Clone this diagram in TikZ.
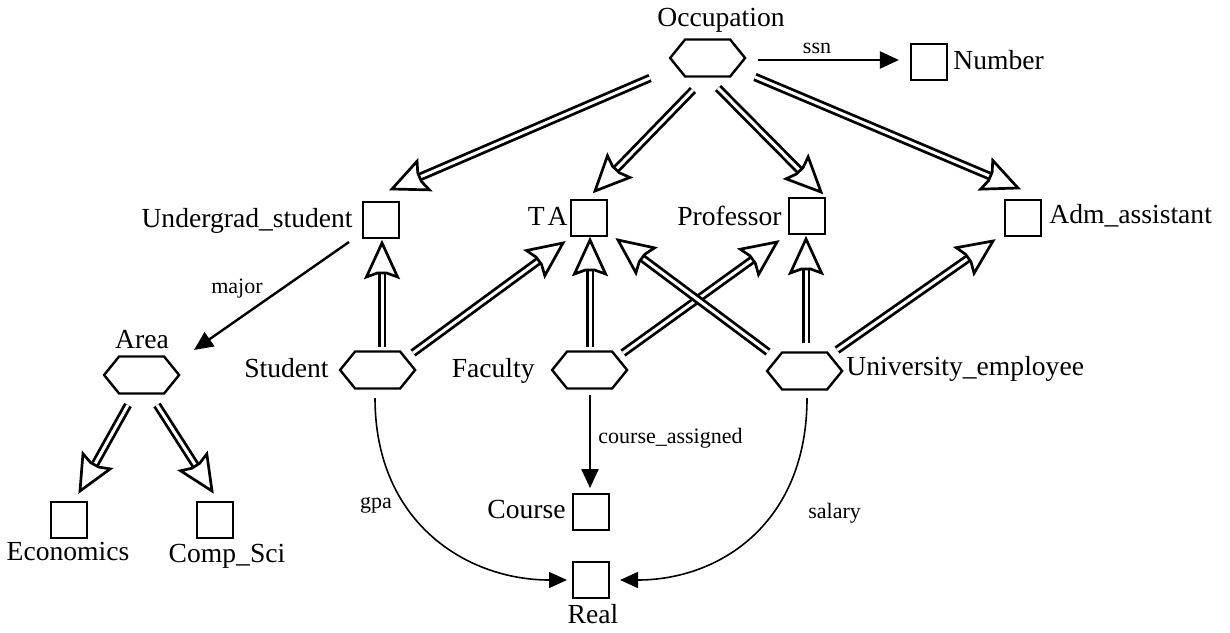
\documentclass[tikz,border=0pt]{standalone}
\usepackage{fontspec}
\setmainfont{Liberation Serif}
\usetikzlibrary{calc,arrows.meta}
\tikzset{
 box/.style={draw, line width=1.1pt, minimum width=18pt, minimum height=18pt, inner sep=0pt},
 hexn/.style={minimum width=37.5pt, minimum height=18.5pt, inner sep=0pt},
 hexline/.style={line width=1.2pt, line join=miter},
 lbl/.style={inner sep=0pt, font=\fontsize{13.8}{16}\selectfont},
 slbl/.style={inner sep=0pt, font=\fontsize{11}{13}\selectfont},
 dbl/.style={double, line width=1.4pt, double distance=1.5pt},
 headst/.style={line width=1.35pt, fill=white, line join=miter},
 arr/.style={line width=1.2pt, -{Triangle[length=9.5pt,width=8.5pt]}},
 carr/.style={line width=0.8pt, -{Triangle[length=9pt,width=8pt]}},
}
\newcommand\hexat[2]{\node[hexn] (#1) at (#2) {};
 \draw[hexline] (#1.west) -- ++(15,-18.5) -- ++(45,0) -- ++(15,18.5) -- ++(-15,18.5) -- ++(-45,0) -- cycle;}
\newcommand\isa[4]{%
 \coordinate (isaS) at ($(#1)+(#2)$);
 \coordinate (isaT) at ($(#3)+(#4)$);
 \draw[dbl] (isaS) -- ($(isaT)!15pt!(isaS)$);
 \draw[headst] (isaT) -- ($(isaT)!17pt!(isaS)!7.8pt!90:(isaS)$) -- ($(isaT)!15pt!(isaS)!2.3pt!90:(isaS)$) -- ($(isaT)!15pt!(isaS)!2.3pt!-90:(isaS)$) -- ($(isaT)!17pt!(isaS)!7.8pt!-90:(isaS)$) -- cycle;}
\begin{document}
\begin{tikzpicture}[x=0.5pt,y=-0.5pt]
\useasboundingbox (0,0) rectangle (1230,632);
% nodes
\hexat{occ}{708,58}
\node[box] (num) at (929,62) {};
\node[box] (ug) at (381,220) {};
\node[box] (ta) at (589,218) {};
\node[box] (prof) at (807,216) {};
\node[box] (adm) at (1023,218) {};
\hexat{stu}{378,370}
\hexat{fac}{590,370}
\hexat{ue}{805,371}
\hexat{area}{142,375}
\node[box] (eco) at (69,520) {};
\node[box] (cs) at (215,520) {};
\node[box] (course) at (591,512) {};
\node[box] (real) at (591,580) {};
% labels
\node[lbl, anchor=base] (occ-l) at (721,26) {Occupation};
\node[lbl, anchor=base west] (num-l) at (953,69) {Number};
\node[lbl, anchor=base east] (ug-l) at (353,227) {Undergrad\_student};
\node[lbl, anchor=base east] (ta-l) at (568,225) {T\kern1.5pt A};
\node[lbl, anchor=base east] (prof-l) at (782,225) {Professor};
\node[lbl, anchor=base west] (adm-l) at (1049,223) {Adm\_assistant};
\node[lbl, anchor=base east] (stu-l) at (329,377) {Student};
\node[lbl, anchor=base east] (fac-l) at (535,377) {Faculty};
\node[lbl, anchor=base west] (ue-l) at (846,375) {University\_employee};
\node[lbl, anchor=base] (area-l) at (142,348) {Area};
\node[lbl, anchor=base] (eco-l) at (68,560) {Economics};
\node[lbl, anchor=base] (cs-l) at (227,562) {Comp\_Sci};
\node[lbl, anchor=base east] (course-l) at (566,518) {Course};
\node[lbl, anchor=base] (real-l) at (593,623) {Real};
% attribute arrows
\draw[arr] ($(occ.east)+(12,2)$) -- ($(num.west)+(-11,-2)$);
\node[slbl, anchor=base] (ssn-l) at (817,53) {ssn};
\draw[arr] ($(ug)+(-32,22)$) -- ($(area)+(52,-25)$);
\node[slbl, anchor=base] (major-l) at (237,293) {major};
\draw[arr] ($(fac)+(0,25)$) -- ($(course)+(-1,-24)$);
\node[slbl, anchor=base west] (ca-l) at (598,443) {course\_assigned};
\draw[carr] ($(stu)+(-3,28)$) .. controls +(0,125) and +(-100,0) .. ($(real)+(-24,0)$);
\node[slbl, anchor=base] (gpa-l) at (376,508) {gpa};
\draw[carr] ($(ue)+(2,27)$) .. controls +(0,125) and +(100,0) .. ($(real)+(29,0)$);
\node[slbl, anchor=base west] (sal-l) at (808,518) {salary};
% is-a arrows
\isa{occ}{-58,20}{ug}{11,-31}
\isa{occ}{-15,32}{ta}{6,-27}
\isa{occ}{10,30}{prof}{14,-24}
\isa{occ}{47,19}{adm}{-5,-30}
\isa{stu}{4,-23}{ug}{1,23}
\isa{stu}{35,-17}{ta}{-26,25}
\isa{fac}{0,-23}{ta}{1,22}
\isa{fac}{33,-17}{prof}{-30,26}
\isa{ue}{-37,-19}{ta}{29,22}
\isa{ue}{1,-28}{prof}{-1,23}
\isa{ue}{32,-21}{adm}{-30,23}
\isa{area}{-14,30}{eco}{11,-29}
\isa{area}{15,30}{cs}{-3,-29}
\end{tikzpicture}
\end{document}
